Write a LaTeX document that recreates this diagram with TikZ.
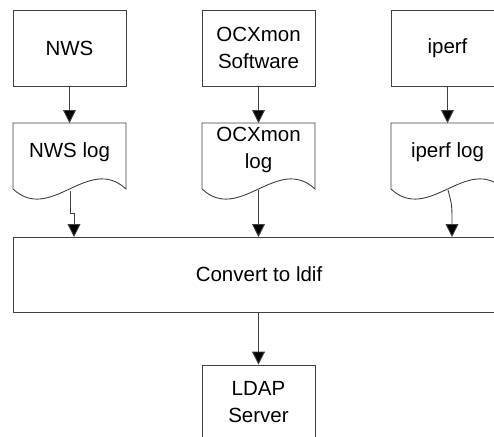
\documentclass[tikz,border=0pt]{standalone}
\usepackage{fontspec}
\setmainfont{Liberation Sans}
\usetikzlibrary{arrows.meta}
\begin{document}
\begin{tikzpicture}[x=1pt,y=-1pt,
  line/.style={draw=black!75, line width=0.9pt},
  box/.style={line, rectangle, minimum width=113pt, minimum height=76pt, inner sep=0pt, align=center},
  lbl/.style={align=center, inner sep=0pt, font=\fontsize{20.5pt}{26.7pt}\selectfont},
  arr/.style={line, -{Triangle[length=13pt,width=13pt,fill=black]}}
]
\useasboundingbox (0,0) rectangle (494,436);
\begin{scope}
\clip (0,0) rectangle (494,436);
% top boxes
\node[box] (nws) at (69.5,48) {};
\node[box] (ocx) at (258.5,48) {};
\node[box] (ipf) at (447.5,48) {};
\node[lbl] (nwst) at (69.5,48) {NWS};
\node[lbl] (ocxt) at (258.5,48) {OCXmon\\Software};
\node[lbl] (ipft) at (447.5,48) {iperf};
% logs
\foreach \c in {69.5, 258.5, 447.5}{
  \draw[line, fill=white] (\c-56.5,123) -- (\c+56.5,123) -- (\c+56.5,189)
    .. controls (\c+18.8,154) and (\c-18.8,224) .. (\c-56.5,189) -- cycle;
}
\coordinate (nwslogtop) at (69.5,123);
\coordinate (ocxlogtop) at (258.5,123);
\coordinate (ipflogtop) at (447.5,123);
\node[lbl] (nwslogt) at (69.5,152) {NWS log};
\node[lbl] (ocxlogt) at (258.5,150) {OCXmon\\log};
\node[lbl] (ipflogt) at (447.5,152) {iperf log};
% convert box
\node[line, rectangle, minimum width=492pt, minimum height=75pt, inner sep=0pt] (conv) at (259,274.5) {};
\node[lbl] (convt) at (259,274) {Convert to ldif};
% LDAP
\node[box] (ldap) at (258.5,403) {};
\node[lbl] (ldapt) at (258.5,402) {LDAP\\Server};
% coordinates
\coordinate (nwsout) at (70,191);
\coordinate (nwsj1) at (70,213);
\coordinate (nwsj2) at (74,213);
\coordinate (nwsin) at (74,237);
\coordinate (ocxout) at (258.5,190);
\coordinate (ocxin) at (258.5,237);
\coordinate (ipfout) at (448,190);
\coordinate (ipfin) at (452,237);
% arrows
\draw[arr] (nws.south) -- (nwslogtop);
\draw[arr] (ocx.south) -- (ocxlogtop);
\draw[arr] (ipf.south) -- (ipflogtop);
\draw[arr] (nwsout) -- (nwsj1) -- (nwsj2) -- (nwsin);
\draw[arr] (ocxout) -- (ocxin);
\draw[arr] (ipfout) .. controls (452,205) .. (ipfin);
\draw[arr] (conv.south -| ldap.north) -- (ldap.north);
\end{scope}
\end{tikzpicture}
\end{document}
